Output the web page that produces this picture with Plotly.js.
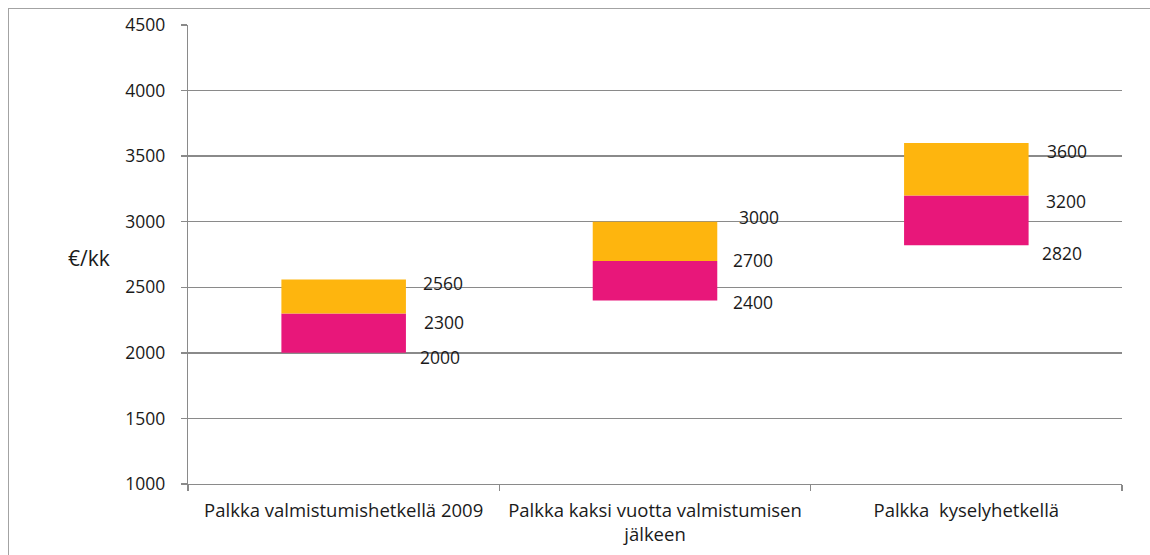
<!DOCTYPE html>
<html>
<head>
<meta charset="utf-8">
<script src="https://cdn.plot.ly/plotly-3.0.1.min.js"></script>
<style>
  html, body { margin: 0; padding: 0; background: #fff; }
  #frame { position: absolute; left: 8px; top: 8px; width: 1160px; height: 560px;
           border-left: 1.5px solid #a3a3a3; border-top: 1.5px solid #a3a3a3; }
  #chart { position: absolute; left: 0; top: 0; width: 1150px; height: 555px; }
</style>
</head>
<body>
<div id="frame"></div>
<div id="chart"></div>
<script>
// Data
const categories = ['Palkka valmistumishetkellä 2009', 'Palkka kaksi vuotta valmistumisen<br>jälkeen', 'Palkka\u00a0 kyselyhetkellä'];
const lowerQuartile = [2000, 2400, 2820];
const median = [2300, 2700, 3200];
const upperQuartile = [2560, 3000, 3600];
const yTickValues = [1000, 1500, 2000, 2500, 3000, 3500, 4000, 4500];
const yAxisLabel = '€/kk';

// Label nudges (pixels), as placed in the original
const upperNudgeX = [77, 82, 79], upperNudgeY = [-4, 5, -7.5];
const medianNudgeX = [78, 76, 78], medianNudgeY = [-8, 1, -6];
const lowerNudgeX = [74.5, 76, 74], lowerNudgeY = [-4.5, -1.5, -8];

const FONT = 'Open Sans, Liberation Sans, Arial, sans-serif';
const TEXT = '#1a1a1a';

const lowerPart = median.map((m, i) => m - lowerQuartile[i]);
const upperPart = upperQuartile.map((u, i) => u - median[i]);

const traces = [
  { type: 'bar', x: categories, y: lowerPart, base: lowerQuartile,
    marker: { color: '#E8177A' }, hoverinfo: 'skip', showlegend: false },
  { type: 'bar', x: categories, y: upperPart, base: median,
    marker: { color: '#FEB50E' }, hoverinfo: 'skip', showlegend: false }
];

const labelSets = [
  { vals: upperQuartile, dx: upperNudgeX, dy: upperNudgeY },
  { vals: median, dx: medianNudgeX, dy: medianNudgeY },
  { vals: lowerQuartile, dx: lowerNudgeX, dy: lowerNudgeY }
];
const annotations = [];
labelSets.forEach(set => {
  set.vals.forEach((v, i) => {
    annotations.push({
      xref: 'x', yref: 'y', x: categories[i], y: v,
      text: String(v), showarrow: false, xanchor: 'left', yanchor: 'middle',
      xshift: set.dx[i], yshift: set.dy[i],
      font: { family: FONT, size: 17.5, color: TEXT }
    });
  });
});
annotations.push({
  xref: 'paper', yref: 'paper', x: -0.106, y: 0.492, text: yAxisLabel,
  showarrow: false, xanchor: 'center', yanchor: 'middle',
  font: { family: FONT, size: 21, color: TEXT }
});

const layout = {
  width: 1150, height: 555,
  margin: { l: 188, r: 28, t: 25, b: 71 },
  paper_bgcolor: 'rgba(0,0,0,0)', plot_bgcolor: 'rgba(0,0,0,0)',
  barmode: 'overlay', bargap: 0.6,
  showlegend: false,
  xaxis: {
    type: 'category', showgrid: false, zeroline: false,
    showline: true, linecolor: '#8a8a8a', linewidth: 1.3,
    ticks: 'outside', tickson: 'boundaries', ticklen: 6, tickcolor: '#8a8a8a', tickwidth: 1.3,
    tickfont: { family: FONT, size: 18.5, color: TEXT },
    ticklabelstandoff: 9
  },
  yaxis: {
    range: [1000, 4500], tickvals: yTickValues, showgrid: true,
    gridcolor: '#8a8a8a', gridwidth: 1.3, zeroline: false,
    showline: true, linecolor: '#8a8a8a', linewidth: 1.3,
    ticks: 'outside', ticklen: 6, tickcolor: '#8a8a8a', tickwidth: 1.3,
    tickfont: { family: FONT, size: 17.5, color: TEXT },
    ticklabelstandoff: 12
  },
  annotations: annotations
};

Plotly.newPlot('chart', traces, layout, { staticPlot: true, displayModeBar: false });
</script>
</body>
</html>
